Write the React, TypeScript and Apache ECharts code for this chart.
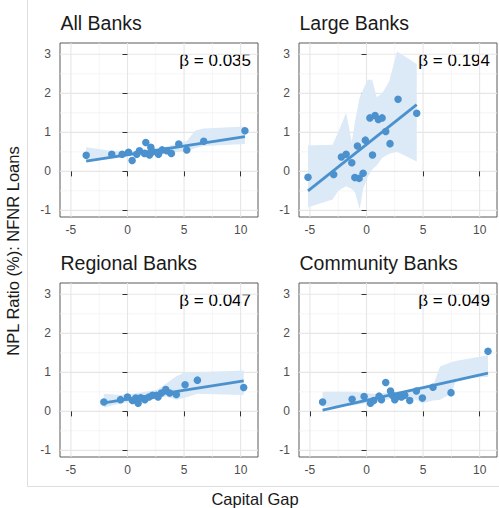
import React, { useEffect, useRef } from "react";
import * as echarts from "echarts";

// ---------------- data ----------------
const xMajorTicks = [-5, 0, 5, 10];
const xMinorTicks = [-2.5, 2.5, 7.5];
const yMajorTicks = [-1, 0, 1, 2, 3];
const yMinorTicks = [-0.5, 0.5, 1.5, 2.5];

const panelTitles = ["All Banks", "Large Banks", "Regional Banks", "Community Banks"];
const panelBetas = ["0.035", "0.194", "0.047", "0.049"];

const allX = [-3.65, -1.39, -0.47, 0.09, 0.41, 0.82, 1.06, 1.5, 1.62, 1.94, 2.06, 2.24, 2.74, 3.06, 3.47, 3.88, 4.53, 5.24, 6.74, 10.38];
const allY = [0.41, 0.44, 0.44, 0.49, 0.28, 0.44, 0.53, 0.46, 0.74, 0.42, 0.62, 0.5, 0.44, 0.55, 0.53, 0.46, 0.7, 0.55, 0.77, 1.04];
const allFitX = [-3.65, 10.38];
const allFitY = [0.26, 0.89];
const allBandX = [-3.65, -1.39, 0.09, 1.06, 2.06, 3.06, 4.53, 5.24, 6.0, 6.74, 10.38];
const allBandLo = [0.25, 0.32, 0.38, 0.42, 0.45, 0.46, 0.5, 0.5, 0.6, 0.65, 0.7];
const allBandHi = [0.62, 0.52, 0.5, 0.55, 0.58, 0.6, 0.72, 0.78, 1.05, 1.1, 1.15];

const largeX = [-5.17, -2.9, -2.22, -1.8, -1.3, -1.03, -0.8, -0.65, -0.3, -0.1, 0.3, 0.53, 0.76, 1.05, 1.38, 1.7, 2.08, 2.79, 4.44];
const largeY = [-0.15, -0.08, 0.37, 0.44, 0.22, -0.16, 0.65, -0.18, -0.05, 0.8, 1.37, 0.42, 1.43, 1.33, 1.37, 1.02, 0.71, 1.85, 1.49];
const largeFitX = [-5.17, 4.44];
const largeFitY = [-0.5, 1.71];
const largeBandX = [-5.17, -3.0, -2.5, -1.8, -1.3, -1.0, -0.6, -0.3, 0.1, 0.5, 0.9, 1.4, 2.0, 2.7, 4.44];
const largeBandLo = [-0.92, -0.72, -0.5, -0.38, -0.45, -0.55, -0.97, -0.45, -0.15, 0.05, 0.15, 0.35, 0.45, 0.5, 0.25];
const largeBandHi = [0.66, 0.68, 1.0, 1.5, 0.75, 1.3, 1.9, 2.1, 2.35, 2.35, 1.9, 2.0, 2.3, 3.07, 2.75];

const regionalX = [-2.09, -0.62, 0.0, 0.44, 0.73, 0.94, 1.17, 1.53, 1.91, 2.21, 2.56, 2.7, 3.0, 3.38, 3.73, 4.32, 5.09, 6.18, 10.27];
const regionalY = [0.24, 0.3, 0.37, 0.28, 0.34, 0.21, 0.35, 0.3, 0.37, 0.41, 0.41, 0.37, 0.47, 0.56, 0.47, 0.43, 0.68, 0.8, 0.61];
const regionalFitX = [-2.09, 10.27];
const regionalFitY = [0.22, 0.78];
const regionalBandX = [-2.09, -0.62, 0.44, 1.53, 2.56, 3.38, 4.32, 5.09, 6.18, 10.27];
const regionalBandLo = [0.1, 0.2, 0.25, 0.3, 0.32, 0.38, 0.3, 0.35, 0.45, 0.42];
const regionalBandHi = [0.45, 0.42, 0.45, 0.5, 0.55, 0.7, 0.9, 1.0, 1.0, 1.05];

const communityX = [-3.88, -1.27, -0.21, 0.35, 0.64, 1.11, 1.32, 1.7, 2.12, 2.29, 2.5, 2.79, 3.09, 3.38, 3.82, 4.41, 4.94, 5.88, 7.47, 10.74];
const communityY = [0.24, 0.31, 0.38, 0.21, 0.28, 0.39, 0.3, 0.74, 0.52, 0.41, 0.3, 0.38, 0.37, 0.41, 0.28, 0.52, 0.34, 0.62, 0.48, 1.54];
const communityFitX = [-3.88, 10.74];
const communityFitY = [0.03, 0.98];
const communityBandX = [-3.88, -1.27, -0.21, 0.64, 1.7, 2.5, 3.38, 4.41, 4.94, 5.88, 6.5, 7.47, 8.0, 10.74];
const communityBandLo = [0.12, 0.15, 0.2, 0.25, 0.3, 0.32, 0.33, 0.3, 0.2, 0.28, 0.3, 0.45, 0.85, 0.88];
const communityBandHi = [0.5, 0.5, 0.48, 0.45, 0.48, 0.5, 0.5, 0.6, 0.62, 0.65, 1.15, 1.26, 1.3, 1.44];

// ---------------- layout / style ----------------
const X_MIN = -5.9655;
const X_MAX = 11.5355;
const Y_MIN = -1.17;
const Y_MAX = 3.29;

const FONT = "'Liberation Sans', Arial, Helvetica, sans-serif";
const BLUE = "#4A91CE";
const BAND = "#DCE9F6";

const panelData = [
  { xs: allX, ys: allY, fx: allFitX, fy: allFitY, bx: allBandX, lo: allBandLo, hi: allBandHi },
  { xs: largeX, ys: largeY, fx: largeFitX, fy: largeFitY, bx: largeBandX, lo: largeBandLo, hi: largeBandHi },
  { xs: regionalX, ys: regionalY, fx: regionalFitX, fy: regionalFitY, bx: regionalBandX, lo: regionalBandLo, hi: regionalBandHi },
  { xs: communityX, ys: communityY, fx: communityFitX, fy: communityFitY, bx: communityBandX, lo: communityBandLo, hi: communityBandHi },
];

const gridBoxes = [
  { left: 60, top: 43 },
  { left: 299, top: 43 },
  { left: 60, top: 283 },
  { left: 299, top: 283 },
];
const GW = 198;
const GH = 174;

export default function App() {
  const ref = useRef<HTMLDivElement>(null);

  useEffect(() => {
    if (!ref.current) return;
    const chart = echarts.init(ref.current, null, { renderer: "svg" });

    const grid = gridBoxes.map((g) => ({
      left: g.left,
      top: g.top,
      width: GW,
      height: GH,
      show: true,
      backgroundColor: "#ffffff",
      borderColor: "#5a5a5a",
      borderWidth: 1,
      containLabel: false,
    }));

    const xAxis = gridBoxes.map((_, i) => ({
      type: "value",
      gridIndex: i,
      min: X_MIN,
      max: X_MAX,
      axisLine: { show: false },
      splitLine: { show: false },
      axisTick: {
        show: true,
        customValues: xMajorTicks,
        length: 5,
        lineStyle: { color: "#333333", width: 1 },
      },
      axisLabel: {
        show: true,
        customValues: xMajorTicks,
        color: "#4d4d4d",
        fontSize: 12,
        fontFamily: FONT,
        margin: 7,
      },
    }));

    const yAxis = gridBoxes.map((_, i) => ({
      type: "value",
      gridIndex: i,
      min: Y_MIN,
      max: Y_MAX,
      axisLine: { show: false },
      splitLine: { show: false },
      axisTick: {
        show: true,
        customValues: yMajorTicks,
        length: 5,
        lineStyle: { color: "#333333", width: 1 },
      },
      axisLabel: {
        show: true,
        customValues: yMajorTicks,
        color: "#4d4d4d",
        fontSize: 12,
        fontFamily: FONT,
        margin: 9,
      },
    }));

    const gridLineData = [
      ...xMinorTicks.map((v) => [v, 0, 0]),
      ...yMinorTicks.map((v) => [v, 1, 0]),
      ...xMajorTicks.map((v) => [v, 0, 1]),
      ...yMajorTicks.map((v) => [v, 1, 1]),
    ];

    const series: any[] = [];
    panelData.forEach((p, i) => {
      series.push({
        type: "custom",
        xAxisIndex: i,
        yAxisIndex: i,
        silent: true,
        z: 0,
        data: gridLineData,
        encode: { x: 0 },
        renderItem: (params: any, api: any) => {
          const v = api.value(0);
          const isY = api.value(1) === 1;
          const major = api.value(2) === 1;
          const a = isY ? api.coord([X_MIN, v]) : api.coord([v, Y_MIN]);
          const b = isY ? api.coord([X_MAX, v]) : api.coord([v, Y_MAX]);
          return {
            type: "line",
            shape: { x1: a[0], y1: a[1], x2: b[0], y2: b[1] },
            style: { stroke: major ? "#e6e6e6" : "#f0f0f0", lineWidth: major ? 1.1 : 0.7 },
          };
        },
      });
      series.push({
        type: "custom",
        xAxisIndex: i,
        yAxisIndex: i,
        silent: true,
        z: 1,
        data: p.bx.map((x, k) => [x, p.lo[k], p.hi[k]]),
        encode: { x: 0, y: [1, 2] },
        renderItem: (params: any, api: any) => {
          if (params.dataIndex !== 0) return null;
          const pts: number[][] = [];
          for (let k = 0; k < p.bx.length; k++) pts.push(api.coord([p.bx[k], p.hi[k]]));
          for (let k = p.bx.length - 1; k >= 0; k--) pts.push(api.coord([p.bx[k], p.lo[k]]));
          return { type: "polygon", shape: { points: pts }, style: { fill: BAND } };
        },
      });
      series.push({
        type: "line",
        xAxisIndex: i,
        yAxisIndex: i,
        z: 2,
        silent: true,
        symbol: "none",
        data: p.fx.map((x, k) => [x, p.fy[k]]),
        lineStyle: { color: BLUE, width: 2.8 },
      });
      series.push({
        type: "scatter",
        xAxisIndex: i,
        yAxisIndex: i,
        z: 3,
        silent: true,
        symbolSize: 7.5,
        data: p.xs.map((x, k) => [x, p.ys[k]]),
        itemStyle: { color: BLUE, opacity: 1 },
      });
    });

    const graphic: any[] = [];
    gridBoxes.forEach((g, i) => {
      graphic.push({
        type: "text",
        x: g.left + 0.5,
        y: g.top - 20,
        style: {
          text: panelTitles[i],
          fontSize: 19.5,
          fontFamily: FONT,
          fill: "#1a1a1a",
          align: "left",
          verticalAlign: "middle",
        },
      });
      graphic.push({
        type: "text",
        x: g.left + GW - 7,
        y: g.top + 17,
        style: {
          text: "β = " + panelBetas[i],
          fontSize: 17,
          fontFamily: FONT,
          fill: "#000000",
          align: "right",
          verticalAlign: "middle",
        },
      });
    });
    graphic.push({
      type: "text",
      x: 255,
      y: 498.5,
      style: {
        text: "Capital Gap",
        fontSize: 16.5,
        fontFamily: FONT,
        fill: "#1a1a1a",
        align: "center",
        verticalAlign: "middle",
      },
    });
    graphic.push({
      type: "text",
      x: 13,
      y: 251,
      rotation: Math.PI / 2,
      style: {
        text: "NPL Ratio (%): NFNR Loans",
        fontSize: 16.5,
        fontFamily: FONT,
        fill: "#1a1a1a",
        align: "center",
        verticalAlign: "middle",
      },
    });
    graphic.push({
      type: "line",
      shape: { x1: 27.5, y1: 0, x2: 27.5, y2: 486.5 },
      style: { stroke: "#dedede", lineWidth: 1 },
      silent: true,
    });
    graphic.push({
      type: "line",
      shape: { x1: 27.5, y1: 486.5, x2: 499, y2: 486.5 },
      style: { stroke: "#dedede", lineWidth: 1 },
      silent: true,
    });

    chart.setOption({
      animation: false,
      backgroundColor: "#ffffff",
      grid,
      xAxis,
      yAxis,
      series,
      graphic,
    });

    return () => chart.dispose();
  }, []);

  return <div ref={ref} style={{ width: 499, height: 508, position: "absolute", left: 0, top: 0 }} />;
}
